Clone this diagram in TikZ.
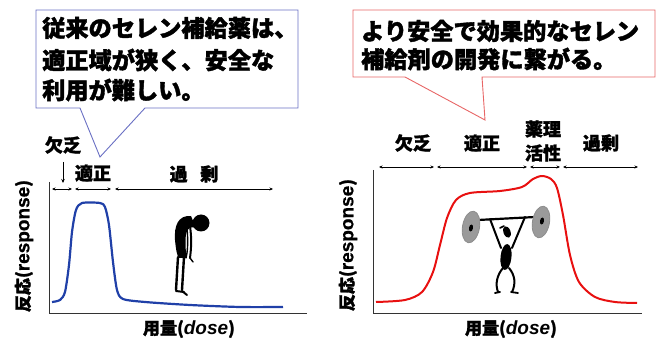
\documentclass[tikz,border=0pt]{standalone}
\usepackage{fontspec}
\newfontfamily\jp{Noto Sans CJK JP}[BoldFeatures={FakeBold=1.6}]
\newfontfamily\lat{Liberation Sans}[BoldFeatures={FakeBold=0.8}]
\usetikzlibrary{arrows.meta}
\definecolor{calloutblue}{HTML}{6A70C4}
\definecolor{calloutred}{HTML}{E86666}
\definecolor{curveblue}{HTML}{2040A8}
\definecolor{curvered}{HTML}{E81010}
\definecolor{plategray}{HTML}{9A9A9A}
\tikzset{
  msg/.style={font=\jp\bfseries\fontsize{23.2}{28}\selectfont, anchor=west, inner sep=0pt},
  rangelbl/.style={font=\jp\bfseries\fontsize{18}{20}\selectfont, inner sep=0pt},
  axislbl/.style={font=\jp\bfseries\fontsize{17}{19}\selectfont, inner sep=0pt},
  axisline/.style={line width=0.9pt, black!80},
  spanarrow/.style={line width=0.6pt, {Stealth[length=3.5pt,width=3pt]}-{Stealth[length=3.5pt,width=3pt]}},
  bubble/.style={line width=0.9pt, fill=white},
}
\newcommand{\resp}{{\lat\bfseries\fontsize{19}{19}\selectfont response}}
\newcommand{\dosetxt}{{\lat\bfseries\itshape\fontsize{19}{19}\selectfont dose}}
\begin{document}
\begin{tikzpicture}[x=1pt,y=-1pt]
\useasboundingbox (0,0) rectangle (664,344);

% ---------- left callout ----------
\draw[bubble, draw=calloutblue]
  (36,10) -- (298,10) -- (298,108) -- (145,108) -- (100,157) -- (80,108) -- (36,108) -- cycle;
\node[msg] (l1) at (42,28) {従来のセレン補給薬は、};
\node[msg] (l2) at (42,60) {適正域が狭く、安全な};
\node[msg] (l3) at (42,90) {利用が難しい。};

% ---------- right callout ----------
\draw[bubble, draw=calloutred]
  (353,10) -- (655,10) -- (655,77) -- (482,77) -- (485,120) -- (405,77) -- (353,77) -- cycle;
\node[msg] (r1) at (361,31) {より安全で効果的なセレン};
\node[msg] (r2) at (361,59) {補給剤の開発に繋がる。};

% ---------- left graph ----------
\coordinate (lo) at (49,313);
\coordinate (ltop) at (49,182);
\coordinate (lright) at (307,313);
\draw[axisline] (ltop) -- (lo) -- (lright);

\coordinate (la1) at (52,189); \coordinate (la2) at (72,189);
\coordinate (lb1) at (75,189); \coordinate (lb2) at (111,189);
\coordinate (lc1) at (115,189); \coordinate (lc2) at (273,189);
\draw[spanarrow] (la1) -- (la2);
\draw[spanarrow] (lb1) -- (lb2);
\draw[spanarrow] (lc1) -- (lc2);

\node[rangelbl] (lkb) at (63,145) {欠乏};
\coordinate (lkbarr1) at (63,162);
\coordinate (lkbarr2) at (63,183);
\draw[line width=0.7pt, -{Stealth[length=4pt,width=3.5pt]}] (lkbarr1) -- (lkbarr2);
\node[rangelbl] (lts) at (93,173) {適正};
\node[rangelbl] (lkj) at (194,174) {過\hspace{0.7em}剰};

\draw[curveblue, line width=2.2pt, line join=round]
  plot[smooth, tension=0.45] coordinates {
   (52,302) (60,300) (65,292) (69,265) (72,232) (76,210) (82,203) (100,203) (105,207) (109,225) (113,262) (117,290) (123,299) (145,302) (190,305) (240,307) (283,307)};

\node[axislbl, rotate=90] (lylab) at (24,246) {反応(\resp)};
\node[axislbl] (lxlab) at (189,329) {用量(\dosetxt)};

% bowed figure
\fill (201,223) circle (8.5);
\fill (191,216) .. controls (178,215) and (174,226) .. (175,240)
      .. controls (176,250) and (177,256) .. (179,258)
      -- (186,258) .. controls (186,250) and (185,242) .. (186,234)
      .. controls (187,228) and (191,226) .. (196,228) -- cycle;
\draw[line width=2.4pt, line cap=round] (178,257) -- (176,290);
\draw[line width=2.4pt, line cap=round] (184,257) -- (182,290);
\draw[line width=2pt, line cap=round] (176,291) -- (184,292);
\draw[line width=2pt, line cap=round] (182,291) -- (187,295);
\draw[line width=2pt, line cap=round] (190,226) .. controls (192,240) and (191,250) .. (190,258);
\draw[line width=1.4pt, line cap=round] (190,258) -- (193,262);
\draw[line width=1.4pt, line cap=round] (187,228) .. controls (188,240) and (188,250) .. (186,258);

% ---------- right graph ----------
\coordinate (ro) at (373,313);
\coordinate (rtop) at (373,170);
\coordinate (rright) at (642,313);
\draw[axisline] (rtop) -- (ro) -- (rright);

\coordinate (ra1) at (379,167); \coordinate (ra2) at (434,167);
\coordinate (rb1) at (437,167); \coordinate (rb2) at (527,167);
\coordinate (rc1) at (530,167); \coordinate (rc2) at (560,167);
\coordinate (rd1) at (563,167); \coordinate (rd2) at (638,167);
\draw[spanarrow] (ra1) -- (ra2);
\draw[spanarrow] (rb1) -- (rb2);
\draw[spanarrow] (rc1) -- (rc2);
\draw[spanarrow] (rd1) -- (rd2);

\node[rangelbl] (rkb) at (413,143) {欠乏};
\node[rangelbl] (rts) at (482,143) {適正};
\node[rangelbl] (ryk1) at (543,129) {薬理};
\node[rangelbl] (ryk2) at (543,153) {活性};
\node[rangelbl] (rkj) at (601,143) {過剰};

\draw[curvered, line width=2pt, line join=round]
  plot[smooth, tension=0.5] coordinates {
   (376,302) (405,300) (422,292) (433,272) (440,245) (447,218) (456,200) (470,193) (500,191) (522,187) (533,179) (542,176) (551,179) (557,188) (563,215) (570,255) (579,282) (595,297) (615,302) (637,303)};

\node[axislbl, rotate=90] (rylab) at (348,245) {反応(\resp)};
\node[axislbl] (rxlab) at (511,329) {用量(\dosetxt)};

% weightlifter
\draw[line width=2.2pt, line cap=round] (478,220) -- (535,217);
\draw[line width=2pt, line cap=round] (490,219) -- (501,248);
\draw[line width=2pt, line cap=round] (525,217) -- (512,248);
\fill[rotate around={20:(507,232)}] (507,232) ellipse (3.5 and 6);
\draw[line width=1.6pt, line cap=round] (500,228) -- (504,226);
\fill[rotate around={-6:(506,257)}] (506,257) ellipse (5.5 and 13);
\draw[line width=2pt, line cap=round] (503,268) .. controls (497,275) and (495,284) .. (498,292);
\draw[line width=2pt, line cap=round] (509,268) .. controls (515,275) and (516,284) .. (512,292);
\draw[line width=1.8pt, line cap=round] (495,293) -- (500,292);
\draw[line width=1.8pt, line cap=round] (511,292) -- (518,293);
\draw[fill=plategray, draw=black!45, line width=0.8pt, rotate around={-10:(471,227)}] (471,227) ellipse (8.5 and 16);
\fill[black, rotate around={-10:(471,228)}] (471,228) ellipse (2 and 3.5);
\draw[fill=plategray, draw=black!45, line width=0.8pt, rotate around={-10:(541,222)}] (541,222) ellipse (8.5 and 16);
\fill[black, rotate around={-10:(542,221)}] (542,221) ellipse (2 and 3.5);

\end{tikzpicture}
\end{document}
